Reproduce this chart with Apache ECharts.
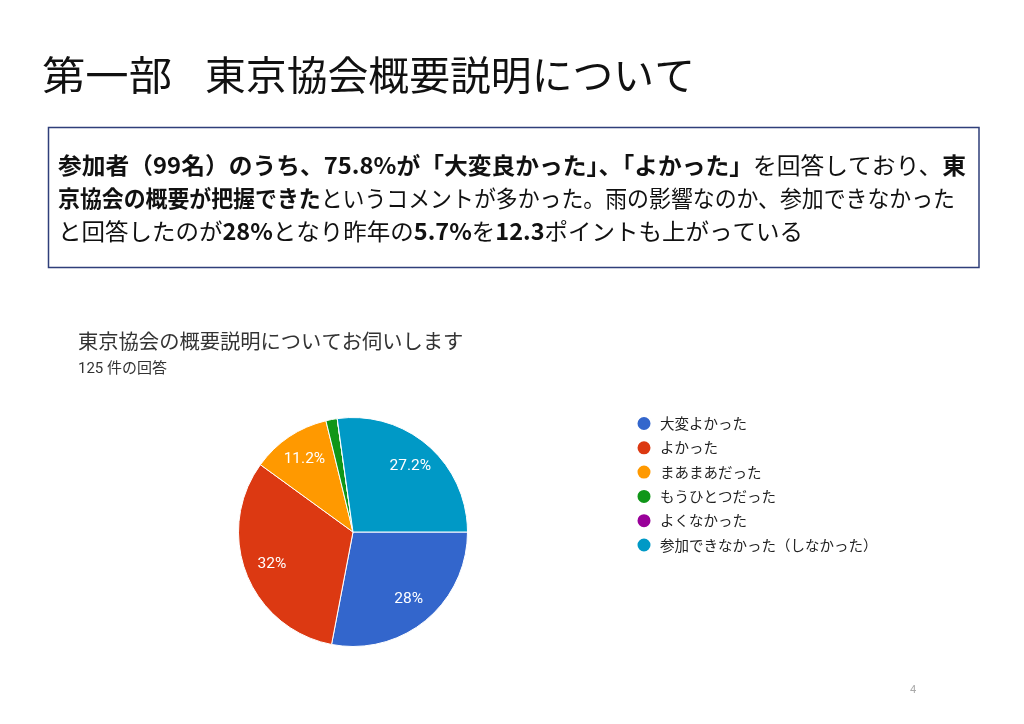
<!DOCTYPE html>
<html><head><meta charset="utf-8">
<script src="https://cdn.jsdelivr.net/npm/echarts@6/dist/echarts.min.js"></script>
<style>html,body{margin:0;padding:0;background:#fff}#c{width:1024px;height:724px}</style>
</head><body><div id="c"></div>
<script>
const categories = ['大変よかった','よかった','まあまあだった','もうひとつだった','よくなかった','参加できなかった（しなかった）'];
const counts = [35, 40, 14, 2, 0, 34];
const colors = ['#3366cc','#dc3912','#ff9900','#109618','#990099','#0099c6'];
const pageTitleParts = ['第一部', '東京協会概要説明について'];
const chartTitle = '東京協会の概要説明についてお伺いします';
const responseNote = '125 件の回答';
const pageNumber = '4';
const summaryLines = [
  [['b','参加者（99名）のうち、75.8%が「大変良かった」、「よかった」'],['n','を回答しており、'],['b','東']],
  [['b','京協会の概要が把握できた'],['n','というコメントが多かった。雨の影響なのか、参加できなかった']],
  [['n','と回答したのが'],['b','28%'],['n','となり昨年の'],['b','5.7%'],['n','を'],['b','12.3'],['n','ポイントも上がっている']]
];

const JP = '"Noto Sans CJK JP", "Noto Sans", sans-serif';
const total = counts.reduce((a, b) => a + b, 0);
const pieData = categories.map((n, i) => ({ name: n, value: counts[i], itemStyle: { color: colors[i] } }));

const cv = document.createElement('canvas').getContext('2d');
function measure(runs, size) {
  let w = 0;
  runs.forEach(r => {
    cv.font = (r[0] === 'b' ? 'bold ' : 'normal ') + size + 'px ' + JP;
    w += cv.measureText(r[1]).width;
  });
  return w;
}

const bodySize = 23;
const lineTargets = [908, 897, 745];
const lineY = [165, 198, 231];
const bodyEls = summaryLines.map((runs, i) => {
  const w = measure(runs, bodySize);
  return {
    type: 'text', x: 58, y: lineY[i], scaleX: lineTargets[i] / w, originX: 0, originY: 0,
    style: {
      text: runs.map(r => '{' + r[0] + '|' + r[1] + '}').join(''),
      verticalAlign: 'middle', align: 'left',
      rich: {
        b: { fontFamily: JP, fontSize: bodySize, fontWeight: 'bold', fill: '#111' },
        n: { fontFamily: JP, fontSize: bodySize, fontWeight: 'normal', fill: '#111' }
      }
    }
  };
});
const titleX = [42, 205], titleTargets = [130, 490];
const titleEls = pageTitleParts.map((t, i) => ({
  type: 'text', x: titleX[i], y: 75, scaleX: titleTargets[i] / measure([['n', t]], 40), originX: 0,
  style: { text: t, fontFamily: JP, fontSize: 40, fill: '#111', verticalAlign: 'middle' }
}));

const chart = echarts.init(document.getElementById('c'), null, { renderer: 'canvas' });
chart.setOption({
  backgroundColor: '#fff',
  animation: false,
  graphic: [
    ...titleEls,
    { type: 'rect', shape: { x: 48.5, y: 127.5, width: 930.5, height: 140 },
      style: { fill: 'none', stroke: '#2f3f7a', lineWidth: 1.5 } },
    ...bodyEls,
    { type: 'text', x: 78, y: 341, style: { text: chartTitle, fontFamily: JP, fontSize: 20.3, fill: '#333', verticalAlign: 'middle' } },
    { type: 'text', x: 78, y: 369, style: { text: responseNote, fontFamily: 'Roboto, ' + JP, fontSize: 15, fill: '#333', verticalAlign: 'middle' } },
    { type: 'text', x: 913, y: 690, style: { text: pageNumber, fontFamily: 'Roboto, sans-serif', fontSize: 11, fill: '#aaa', align: 'center', verticalAlign: 'middle' } }
  ],
  legend: {
    orient: 'vertical', left: 635.5, top: 415, padding: 0,
    icon: 'circle', itemWidth: 15, itemHeight: 15, itemGap: 7.3,
    data: categories,
    textStyle: { fontFamily: JP, fontSize: 14.5, color: '#222', padding: [0, 0, 0, 3.5] }
  },
  series: [
    {
      type: 'pie', center: [353, 532], radius: 114.5, startAngle: 0, clockwise: true,
      data: pieData, label: { show: false }, labelLine: { show: false },
      itemStyle: { borderColor: '#fff', borderWidth: 1 },
      emphasis: { disabled: true }, silent: true
    },
    {
      type: 'pie', center: [353, 532], radius: [54, 114.5], startAngle: 0, clockwise: true,
      data: pieData.map(d => ({ name: d.name, value: d.value, itemStyle: { color: 'rgba(0,0,0,0)' } })),
      legendHoverLink: false, silent: true, emphasis: { disabled: true },
      itemStyle: { borderWidth: 0 },
      label: {
        show: true, position: 'inside', color: '#fff', fontFamily: 'Roboto, Arial, sans-serif', fontSize: 15.5,
        formatter: p => {
          const pct = Math.round(p.value / total * 1000) / 10;
          return pct >= 5 ? pct + '%' : '';
        }
      },
      labelLine: { show: false }
    }
  ]
});
</script></body></html>
